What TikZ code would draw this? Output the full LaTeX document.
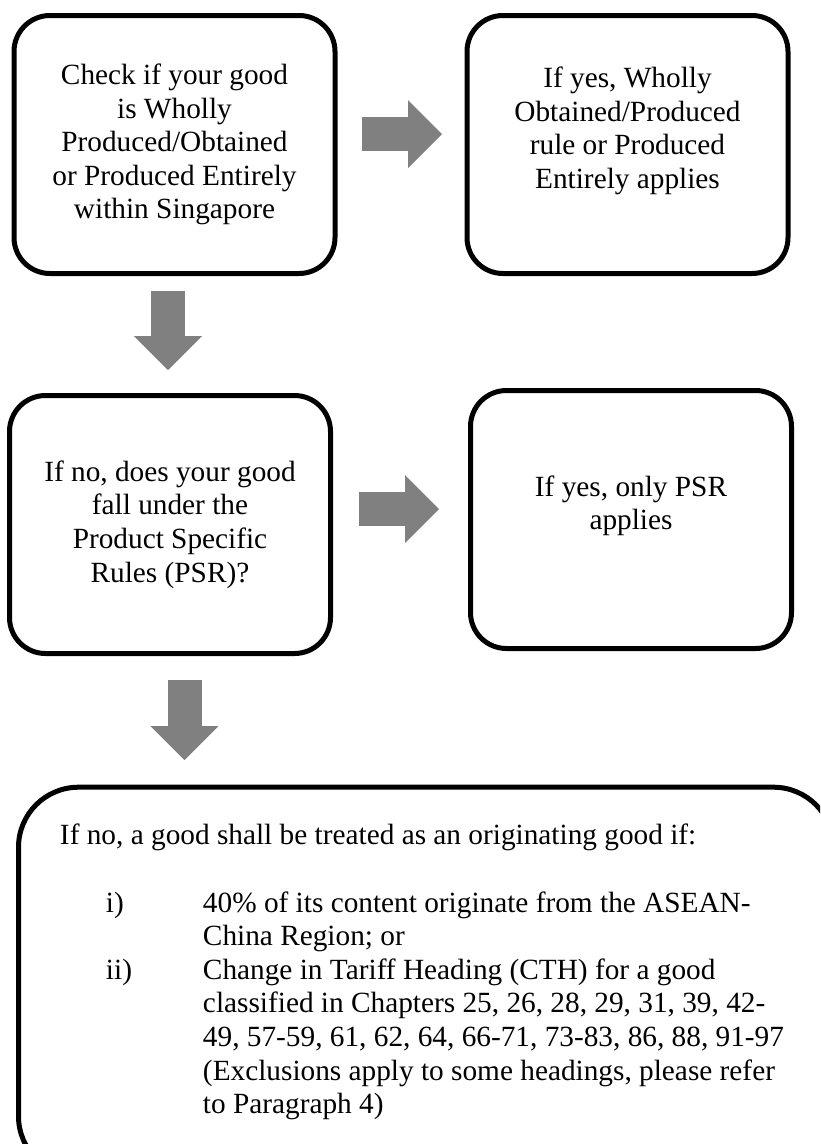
\documentclass[tikz,border=0pt]{standalone}
\usepackage{fontspec}
\setmainfont{Liberation Serif}
\usetikzlibrary{arrows.meta, positioning}
\tikzset{
	rulebox/.style={rectangle, rounded corners=36pt, draw=black, line width=5pt, fill=white,
		minimum width=321pt, minimum height=258pt, inner sep=0pt, align=center,
		font=\fontsize{29.3}{33.6}\selectfont},
	widebox/.style={rectangle, rounded corners=60pt, draw=black, line width=5pt, fill=white,
		inner xsep=0pt, inner ysep=37pt, font=\fontsize{29.3}{33.6}\selectfont},
	% thick grey block arrows between the boxes
	bigarrow/.style={draw=black!50, line width=34pt,
		-{Triangle[length=34pt, width=68pt, line width=0pt]}},
}

\begin{document}
\begin{tikzpicture}
		\useasboundingbox (0,0) rectangle (820pt,-1144pt);
		\clip (0,0) rectangle (820pt,-1144pt);
		\node[rulebox](wholly) at (174.5pt,-144.5pt){Check if your good\\is Wholly\\Produced/Obtained\\or Produced Entirely\\within Singapore};
		\node[rulebox,right=127pt of wholly](whollyyes){If yes, Wholly\\Obtained/Produced\\rule or Produced\\Entirely applies\\\mbox{}};
		\node[rulebox,below=117pt of wholly,xshift=-4.5pt](psr){If no, does your good\\fall under the\\Product Specific\\Rules (PSR)?};
		\node[rulebox,right=135pt of psr,yshift=5pt](psryes){If yes, only PSR\\applies\\\mbox{}};
		\node[widebox,below right=128.7pt and 9pt of psr.south west](origin){%
			\begin{minipage}[t][315pt][t]{815pt}
				\raggedright\leftskip=41.5pt
				If no, a good shall be treated as an originating good if:\\[33.6pt]
				\hspace*{46pt}\makebox[97pt][l]{i)}40\% of its content originate from the ASEAN-\\
				\hspace*{143pt}China Region; or\\
				\hspace*{46pt}\makebox[97pt][l]{ii)}Change in Tariff Heading (CTH) for a good\\
				\hspace*{143pt}classified in Chapters 25, 26, 28, 29, 31, 39, 42-\\
				\hspace*{143pt}49, 57-59, 61, 62, 64, 66-71, 73-83, 86, 88, 91-97\\
				\hspace*{143pt}(Exclusions apply to some headings, please refer\\
				\hspace*{143pt}to Paragraph 4)
			\end{minipage}};
		\draw[bigarrow,shorten <=24.5pt,shorten >=22.5pt]([yshift=10.5pt]wholly.east)--([yshift=10.5pt]wholly.east -| whollyyes.west);
		\draw[bigarrow,shorten <=15pt,shorten >=23pt]([xshift=-6.5pt]wholly.south)--([xshift=-6.5pt]wholly.south |- psr.north);
		\draw[bigarrow,shorten <=26pt,shorten >=29pt]([yshift=15.5pt]psr.east)--([yshift=15.5pt]psr.east -| psryes.west);
		\draw[bigarrow,shorten <=24pt,shorten >=24.5pt]([xshift=14.5pt]psr.south)--([xshift=14.5pt]psr.south |- origin.north);
\end{tikzpicture}
\end{document}
